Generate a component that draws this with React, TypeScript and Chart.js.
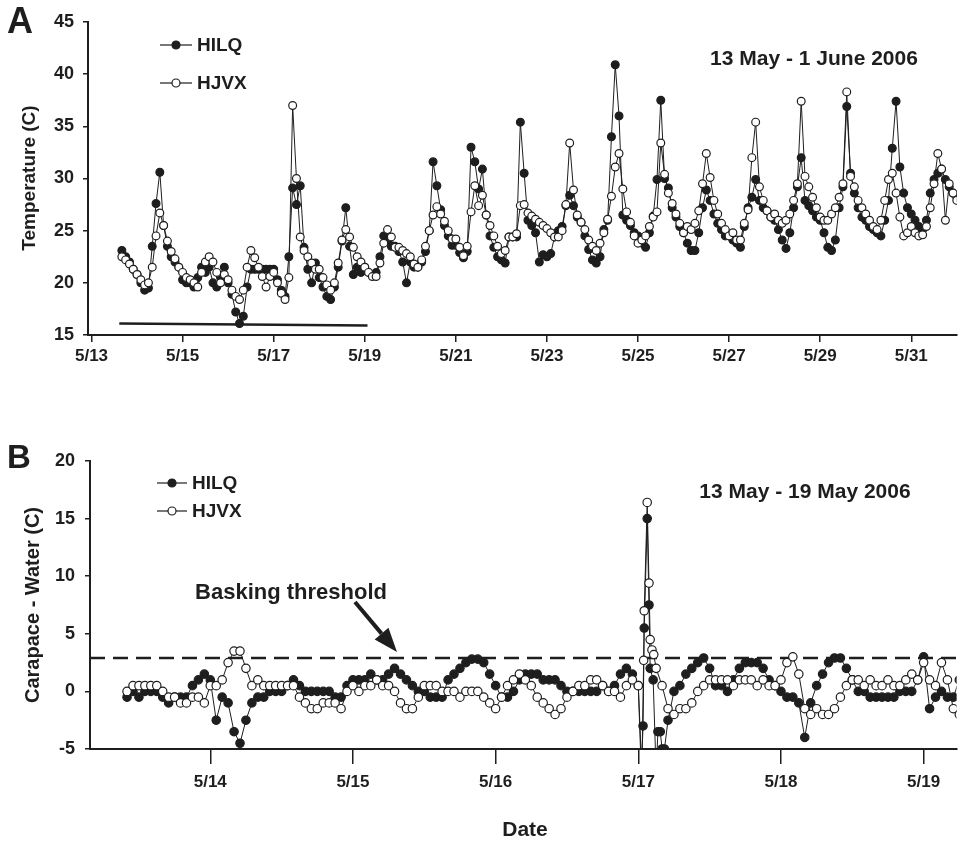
import React, { useEffect, useRef } from "react";
import { Chart, registerables } from "chart.js";
Chart.register(...registerables);

const FONT = '"Liberation Sans", Arial, Helvetica, sans-serif';
const INK = "#1e1e1e";

// ---------------- Panel A : 13 May - 1 June 2006 (2-hourly readings) ----------------
const aStartDay = 13 + 16 / 24; // first reading 5/13 16:00
const aStepDays = 2 / 24;
const aHilq = [
  23.1, 22.5, 22.0, 21.3,
  20.8, 20.0, 19.3, 19.5, 23.5, 27.6, 30.6, 25.5, 23.5, 22.5, 22.0, 21.5,
  20.3, 20.0, 20.0, 19.6, 20.5, 21.5, 21.0, 21.5, 20.0, 19.6, 20.5, 21.5,
  20.0, 18.9, 17.2, 16.1, 16.8, 19.6, 21.3, 21.3, 21.3, 21.3, 21.3, 21.3,
  21.3, 20.3, 19.3, 18.7, 22.5, 29.1, 27.5, 29.3, 23.4, 21.3, 20.0, 21.9,
  20.5, 19.6, 18.7, 18.4, 19.6, 21.5, 24.0, 27.2, 23.5, 20.8, 21.5, 21.0,
  21.5, 21.0, 20.8, 21.0, 22.5, 24.5, 24.0, 23.5, 23.5, 23.0, 22.0, 20.0,
  22.0, 21.5, 21.5, 22.0, 23.0, 25.0, 31.6, 29.3, 27.0, 25.5, 24.5, 23.6,
  23.6, 22.9, 22.4, 23.0, 33.0, 31.6, 29.0, 30.9, 26.5, 24.5, 23.4, 22.5,
  22.2, 21.9, 24.4, 24.4, 24.4, 35.4, 30.5, 26.0, 25.5, 24.8, 22.0, 22.7,
  22.5, 22.8, 24.4, 25.0, 25.4, 27.4, 28.4, 27.4, 26.3, 25.8, 24.5, 23.2,
  22.2, 21.9, 22.5, 25.1, 26.0, 34.0, 40.9, 36.0, 26.5, 26.0, 25.5, 24.8,
  24.5, 23.8, 23.4, 24.8, 26.4, 29.9, 37.5, 30.0, 29.1, 27.2, 26.3, 25.4,
  24.8, 23.8, 23.1, 23.1, 24.8, 27.2, 28.9, 27.9, 26.6, 25.7, 25.1, 24.5,
  24.5, 24.1, 23.8, 23.4, 25.4, 27.2, 28.2, 29.9, 27.9, 27.2, 26.9, 26.3,
  26.0, 25.1, 24.1, 23.3, 24.8, 27.2, 29.2, 32.0, 27.9, 27.4, 26.9, 26.3,
  26.0, 24.8, 23.4, 23.1, 24.1, 27.2, 29.2, 36.9, 30.5, 28.6, 27.2, 26.3,
  26.0, 25.4, 25.1, 24.8, 24.5, 26.0, 27.9, 32.9, 37.4, 31.1, 28.6, 27.2,
  26.6, 26.0, 25.4, 25.1, 26.0, 28.6, 29.9, 30.5, 30.9, 29.9, 29.2, 28.6,
  28.2,
];
const aHjvx = [
  22.5, 22.2, 21.8, 21.3,
  20.8, 20.3, 19.8, 20.0, 21.5, 24.5, 26.7, 25.5, 24.0, 23.0, 22.3, 21.5,
  21.0, 20.5, 20.3, 20.0, 19.6, 21.0, 22.0, 22.5, 22.0, 21.0, 20.0, 20.8,
  20.3, 19.3, 18.7, 18.4, 19.3, 21.5, 23.1, 22.4, 21.5, 20.6, 19.6, 20.6,
  21.0, 20.0, 19.0, 18.4, 20.5, 37.0, 30.0, 24.4, 23.1, 22.5, 21.9, 21.3,
  21.3, 20.5, 19.8, 19.3, 20.0, 21.9, 24.1, 25.1, 24.4, 23.4, 22.5, 22.0,
  21.5, 21.0, 20.6, 20.6, 21.9, 23.8, 25.1, 24.4, 23.4, 23.4, 23.1, 22.8,
  22.5, 21.8, 21.5, 22.2, 23.5, 25.0, 26.5, 27.3, 26.6, 25.9, 25.0, 24.2,
  24.2, 23.4, 22.6, 23.5, 26.8, 29.3, 27.4, 28.4, 26.5, 25.5, 24.5, 23.5,
  22.8, 23.1, 24.4, 24.4, 24.7, 27.4, 27.5, 26.7, 26.4, 26.1, 25.8, 25.5,
  25.2, 24.8, 24.4, 24.4, 25.0, 27.5, 33.4, 28.9, 26.5, 25.8, 25.1, 24.1,
  23.5, 23.1, 23.8, 24.8, 26.1, 28.3, 31.1, 32.4, 29.0, 26.8, 25.8, 24.5,
  23.8, 24.1, 24.5, 25.4, 26.3, 26.8, 33.4, 30.4, 28.6, 27.6, 26.6, 25.7,
  24.8, 25.4, 25.1, 25.7, 26.9, 29.5, 32.4, 30.1, 27.9, 26.6, 25.7, 25.1,
  24.5, 24.8, 24.1, 24.1, 25.7, 27.0, 32.0, 35.4, 29.2, 27.9, 26.9, 26.3,
  26.6, 26.0, 25.7, 26.0, 26.6, 27.9, 29.5, 37.4, 30.2, 29.2, 28.2, 27.2,
  26.3, 26.0, 26.0, 26.6, 27.2, 28.2, 29.5, 38.3, 30.2, 29.2, 27.9, 27.2,
  26.6, 26.0, 25.4, 25.1, 26.0, 27.9, 29.9, 30.5, 28.6, 26.3, 24.5, 24.8,
  25.4, 24.8, 24.5, 24.6, 25.4, 27.2, 29.5, 32.4, 30.9, 26.0, 29.5, 28.6,
  27.9,
];
const aTickDays = [13, 15, 17, 19, 21, 23, 25, 27, 29, 31];
const aBarDays = [13.61, 19.06];
const aBarValues = [16.1, 15.9];

// ---------------- Panel B : 13 May - 19 May 2006 (hourly readings) ----------------
const bStartDay = 13 + 10 / 24; // first reading 5/13 10:00
const bStepDays = 1 / 24;
const bHilq = [
  -0.5, 0, -0.5, 0, 0, 0, -0.5, -1.0, -0.5, -0.5,
  -0.5, 0.5, 1.0, 1.5, 1.0, -2.5, -0.5, -1.0, -3.5, -4.5,
  -2.5, -1.0, -0.5, -0.5, 0, 0, 0, 0.5, 1.0, 0.5,
  0, 0, 0, 0, 0, -0.5, -0.5, 0.5, 1.0, 1.0,
  1.0, 1.5, 1.0, 1.0, 1.5, 2.0, 1.5, 1.0, 0.5, 0,
  0, -0.5, -0.5, -0.5, 1.0, 1.5, 2.0, 2.5, 2.8, 2.8,
  2.5, 1.5, 0.5, -0.5, -0.5, 0, 1.0, 1.5, 1.5, 1.5,
  1.0, 1.0, 1.0, 0.5, 0, 0, 0, 0, 0, 0,
  0.5, 0, 0.5, 1.5, 2.0, 1.5, 0.5, 5.5, 2.0, -7.0,
  -5.0, -2.5, 0, 0.5, 1.5, 2.0, 2.5, 2.9, 2.0, 0.5,
  0.5, 0, 1.0, 2.0, 2.5, 2.5, 2.5, 2.0, 1.0, 0.5,
  0, -0.5, -0.5, -1.0, -4.0, -1.0, 0.5, 1.5, 2.5, 2.9,
  2.9, 2.0, 1.0, 0, 0, -0.5, -0.5, -0.5, -0.5, -0.5,
  0, 0, 0, 1.0, 3.0, -1.5, -0.5, 0, -0.5, -0.5,
  1.0,
];
const bHjvx = [
  0, 0.5, 0.5, 0.5, 0.5, 0.5, 0, -0.5, -0.5, -1.0,
  -1.0, -0.5, -0.5, -1.0, 0.5, 0.5, 1.0, 2.5, 3.5, 3.5,
  2.0, 0.5, 1.0, 0.5, 0.5, 0.5, 0.5, 0.5, 0.5, -0.5,
  -1.0, -1.5, -1.5, -1.0, -1.0, -1.0, -1.5, 0, 0.5, 0,
  0.5, 0.5, 1.0, 0.5, 0.5, 0, -1.0, -1.5, -1.5, -0.5,
  0.5, 0.5, 0.5, 0, 0, 0, -0.5, 0, 0, 0,
  -0.5, -1.0, -1.5, -0.5, 0.5, 1.0, 1.5, 1.0, 0.5, -0.5,
  -1.0, -1.5, -2.0, -1.5, -0.5, 0, 0.5, 0.5, 1.0, 1.0,
  0.5, 0, 0, -0.5, 0.5, 1.0, 0.5, 7.0, 4.5, 2.0,
  0.5, -1.5, -2.0, -1.5, -1.5, -1.0, 0, 0.5, 1.0, 1.0,
  1.0, 1.0, 0.5, 1.0, 1.0, 1.0, 0.5, 1.0, 0.5, 0.5,
  1.0, 2.5, 3.0, 1.5, -1.5, -2.0, -1.5, -2.0, -2.0, -1.5,
  -0.5, 0.5, 1.0, 1.0, 0.5, 1.0, 0.5, 0.5, 1.0, 0.5,
  0.5, 1.0, 1.5, 1.0, 2.5, 1.0, 0.5, 2.5, 1.0, -1.5,
  -2.0,
];
// extra readings around the 5/17 basking spike (position in hours from first reading)
const bHilqSpikeHours = [86.5, 86.8, 87.5, 87.8, 88.5, 89.3, 89.7, 90.4];
const bHilqSpikeValues = [-7.0, -3.0, 15.0, 7.5, 1.0, -3.5, -3.5, -5.0];
const bHjvxSpikeHours = [86.6, 86.9, 87.5, 87.8, 88.3, 88.6];
const bHjvxSpikeValues = [-7.0, 2.7, 16.4, 9.4, 3.6, 3.2];
const bTickDays = [14, 15, 16, 17, 18, 19];
const bThreshold = 2.9;

function buildSeries(start: number, step: number, values: number[], extraIdx: number[] = [], extraVal: number[] = []) {
  const pts = values.map((v, i) => ({ x: start + i * step, y: v }));
  extraIdx.forEach((k, j) => pts.push({ x: start + k * step, y: extraVal[j] }));
  pts.sort((a, b) => a.x - b.x);
  return pts;
}

function seriesStyle(fill: string, order: number, radius: number) {
  return {
    borderColor: INK,
    borderWidth: 1,
    pointRadius: radius,
    pointBorderWidth: 1.2,
    pointBackgroundColor: fill,
    pointBorderColor: INK,
    tension: 0,
    order,
  };
}

function font(size: number) {
  return `bold ${size}px ${FONT}`;
}

function drawLegend(ctx: CanvasRenderingContext2D, x1: number, x2: number, y1: number, y2: number, textX: number, size: number) {
  const items = [
    { label: "HILQ", fill: INK, y: y1 },
    { label: "HJVX", fill: "#fff", y: y2 },
  ];
  items.forEach((it) => {
    ctx.strokeStyle = INK;
    ctx.lineWidth = 1.2;
    ctx.beginPath();
    ctx.moveTo(x1, it.y);
    ctx.lineTo(x2, it.y);
    ctx.stroke();
    ctx.beginPath();
    ctx.arc((x1 + x2) / 2, it.y, 4, 0, Math.PI * 2);
    ctx.fillStyle = it.fill;
    ctx.fill();
    ctx.stroke();
    ctx.fillStyle = INK;
    ctx.font = font(size);
    ctx.textAlign = "left";
    ctx.textBaseline = "middle";
    ctx.fillText(it.label, textX, it.y + 1);
  });
}

function drawRotated(ctx: CanvasRenderingContext2D, text: string, cx: number, cy: number, size: number) {
  ctx.save();
  ctx.translate(cx, cy);
  ctx.rotate(-Math.PI / 2);
  ctx.font = font(size);
  ctx.fillStyle = INK;
  ctx.textAlign = "center";
  ctx.textBaseline = "middle";
  ctx.fillText(text, 0, 0);
  ctx.restore();
}

const decoA = {
  id: "decoA",
  afterDraw(chart: any) {
    const ctx = chart.ctx as CanvasRenderingContext2D;
    ctx.save();
    ctx.fillStyle = INK;
    ctx.font = font(36);
    ctx.textAlign = "left";
    ctx.textBaseline = "alphabetic";
    ctx.fillText("A", 7, 33);
    drawRotated(ctx, "Temperature (C)", 30, 178, 19);
    drawLegend(ctx, 160, 192, 45, 83, 197, 19);
    ctx.font = font(21);
    ctx.textAlign = "center";
    ctx.textBaseline = "middle";
    ctx.fillStyle = INK;
    ctx.fillText("13 May - 1 June 2006", 814, 59);
    ctx.restore();
  },
};

const decoB = {
  id: "decoB",
  afterDraw(chart: any) {
    const ctx = chart.ctx as CanvasRenderingContext2D;
    ctx.save();
    ctx.fillStyle = INK;
    ctx.font = font(33);
    ctx.textAlign = "left";
    ctx.textBaseline = "alphabetic";
    ctx.fillText("B", 7, 48);
    drawRotated(ctx, "Carapace - Water (C)", 33, 185, 20);
    drawLegend(ctx, 157, 187, 63, 91, 192, 19);
    ctx.font = font(21);
    ctx.textAlign = "center";
    ctx.textBaseline = "middle";
    ctx.fillStyle = INK;
    ctx.fillText("13 May - 19 May 2006", 805, 72);
    ctx.font = font(22);
    ctx.textBaseline = "alphabetic";
    ctx.fillText("Basking threshold", 291, 179);
    ctx.font = font(21);
    ctx.fillText("Date", 525, 416);
    // arrow pointing to threshold line
    const x1 = 355, y1 = 182, x2 = 397, y2 = 232;
    const ang = Math.atan2(y2 - y1, x2 - x1);
    const headLen = 24, headW = 9;
    const bx = x2 - headLen * Math.cos(ang);
    const by = y2 - headLen * Math.sin(ang);
    ctx.strokeStyle = INK;
    ctx.lineWidth = 4;
    ctx.beginPath();
    ctx.moveTo(x1, y1);
    ctx.lineTo(bx, by);
    ctx.stroke();
    ctx.beginPath();
    ctx.moveTo(x2, y2);
    ctx.lineTo(bx - Math.sin(ang) * headW, by + Math.cos(ang) * headW);
    ctx.lineTo(bx + Math.sin(ang) * headW, by - Math.cos(ang) * headW);
    ctx.closePath();
    ctx.fill();
    ctx.restore();
  },
};

function axisCommon(tickLen: number) {
  return {
    grid: { drawOnChartArea: false, drawTicks: true, tickLength: tickLen, color: INK, lineWidth: 1.5 },
    border: { display: true, color: INK, width: 2 },
  };
}

export default function App() {
  const refA = useRef<HTMLCanvasElement>(null);
  const refB = useRef<HTMLCanvasElement>(null);

  useEffect(() => {
    document.body.style.margin = "0";
    const chartA = new Chart(refA.current as HTMLCanvasElement, {
      type: "line",
      data: {
        datasets: [
          { label: "HJVX", data: buildSeries(aStartDay, aStepDays, aHjvx), ...seriesStyle("#fff", 0, 3.9) } as any,
          { label: "HILQ", data: buildSeries(aStartDay, aStepDays, aHilq), ...seriesStyle(INK, 1, 3.9) } as any,
          {
            label: "period",
            data: aBarDays.map((d, i) => ({ x: d, y: aBarValues[i] })),
            borderColor: INK,
            borderWidth: 2.5,
            pointRadius: 0,
            order: 2,
          } as any,
        ],
      },
      options: {
        animation: false,
        responsive: false,
        devicePixelRatio: 1,
        layout: { padding: { top: 22, right: 4, left: 0, bottom: 0 } },
        plugins: { legend: { display: false }, tooltip: { enabled: false } },
        scales: {
          x: {
            type: "linear",
            min: 12.923,
            max: 32.0,
            afterFit: (s: any) => { s.height = 85; },
            afterBuildTicks: (s: any) => { s.ticks = aTickDays.map((v) => ({ value: v })); },
            ticks: {
              callback: (v: any) => "5/" + v,
              font: { family: FONT, size: 17, weight: "bold" },
              color: INK,
              padding: 4,
              maxRotation: 0,
              autoSkip: false,
            },
            ...axisCommon(7),
          },
          y: {
            min: 15,
            max: 45,
            afterFit: (s: any) => { s.width = 88; },
            ticks: { stepSize: 5, font: { family: FONT, size: 18, weight: "bold" }, color: INK, padding: 9 },
            ...axisCommon(5),
          },
        },
      } as any,
      plugins: [decoA],
    });

    const chartB = new Chart(refB.current as HTMLCanvasElement, {
      type: "line",
      data: {
        datasets: [
          {
            label: "HJVX",
            data: buildSeries(bStartDay, bStepDays, bHjvx, bHjvxSpikeHours, bHjvxSpikeValues),
            ...seriesStyle("#fff", 0, 4.2),
          } as any,
          {
            label: "HILQ",
            data: buildSeries(bStartDay, bStepDays, bHilq, bHilqSpikeHours, bHilqSpikeValues),
            ...seriesStyle(INK, 1, 4.2),
          } as any,
          {
            label: "threshold",
            data: [{ x: 13.157, y: bThreshold }, { x: 19.231, y: bThreshold }],
            borderColor: INK,
            borderWidth: 2.5,
            borderDash: [15, 8],
            pointRadius: 0,
            order: 2,
          } as any,
        ],
      },
      options: {
        animation: false,
        responsive: false,
        devicePixelRatio: 1,
        layout: { padding: { top: 41, right: 4, left: 0, bottom: 0 } },
        plugins: { legend: { display: false }, tooltip: { enabled: false } },
        scales: {
          x: {
            type: "linear",
            min: 13.157,
            max: 19.231,
            afterFit: (s: any) => { s.height = 93; },
            afterBuildTicks: (s: any) => { s.ticks = bTickDays.map((v) => ({ value: v })); },
            ticks: {
              callback: (v: any) => "5/" + v,
              font: { family: FONT, size: 17, weight: "bold" },
              color: INK,
              padding: 8,
              maxRotation: 0,
              autoSkip: false,
            },
            ...axisCommon(15),
          },
          y: {
            min: -5,
            max: 20,
            afterFit: (s: any) => { s.width = 90; },
            ticks: { stepSize: 5, font: { family: FONT, size: 18, weight: "bold" }, color: INK, padding: 10 },
            ...axisCommon(5),
          },
        },
      } as any,
      plugins: [decoB],
    });

    return () => {
      chartA.destroy();
      chartB.destroy();
    };
  }, []);

  return (
    <div style={{ position: "relative", width: 962, height: 842, background: "#fff" }}>
      <canvas ref={refA} width={962} height={420} style={{ position: "absolute", left: 0, top: 0, width: 962, height: 420 }} />
      <canvas ref={refB} width={962} height={422} style={{ position: "absolute", left: 0, top: 420, width: 962, height: 422 }} />
    </div>
  );
}
